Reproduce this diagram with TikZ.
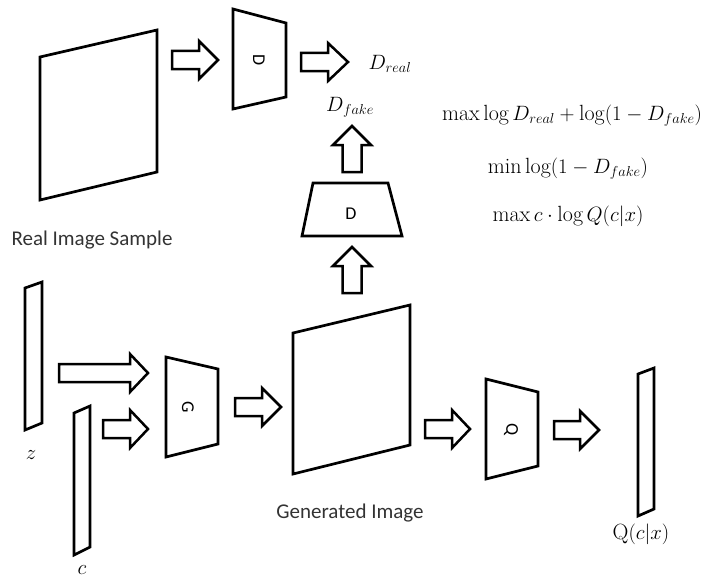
\documentclass[tikz,border=0pt]{standalone}
\usepackage{fontspec}
\setsansfont{Carlito}
\begin{document}
\begin{tikzpicture}[x=1pt,y=-1pt,
  outline/.style={draw=black,line width=2.7pt,line join=miter},
  blk/.style={draw=black,line width=2.5pt,line join=miter,fill=white},
  lbl/.style={font=\sffamily\fontsize{21}{24}\selectfont,text=black!80,inner sep=0pt},
  netlbl/.style={font=\sffamily\fontsize{18}{21}\selectfont,inner sep=0pt},
  eq/.style={font=\fontsize{22}{26}\selectfont,inner sep=0pt}]
\useasboundingbox (0,0) rectangle (711,578);

% block arrows: right-pointing (x1,x2,y,head start) and up-pointing (x,y1,y2,head start)
\newcommand\rblock[4]{\draw[blk] (#1,#3-9) -- (#4,#3-9) -- (#4,#3-19) -- (#2,#3)
  -- (#4,#3+19) -- (#4,#3+9) -- (#1,#3+9) -- cycle;}
\newcommand\ublock[4]{\draw[blk] (#1-9.5,#2) -- (#1-9.5,#4) -- (#1-19,#4) -- (#1,#3)
  -- (#1+19,#4) -- (#1+9.5,#4) -- (#1+9.5,#2) -- cycle;}

% real image sample
\draw[outline] (40,57) -- (157,30) -- (157,172) -- (40,200) -- cycle;
\node[lbl] (realtxt) at (92,240) {Real Image Sample};

% discriminator on real data
\rblock{172}{218}{60}{199}
\draw[outline] (233,9) -- (286,23) -- (286,97) -- (233,109) -- cycle;
\node[netlbl,rotate=-90] (dtop) at (259,60) {D};
\rblock{301}{348}{62}{328}
\node[eq] (dreal) at (390,64) {$D_{real}$};

% discriminator on generated data
\node[eq] (dfake) at (350,107) {$D_{fake}$};
\ublock{352}{172}{126}{145}
\draw[outline] (313,183) -- (388,183) -- (402,236) -- (302,236) -- cycle;
\node[netlbl] (dmid) at (351,214) {D};
\ublock{352}{293}{247}{266}

% objectives
\node[eq] (obj1) at (572,116) {$\max\log D_{real}+\log(1-D_{fake})$};
\node[eq] (obj2) at (568,169) {$\min\log(1-D_{fake})$};
\node[eq] (obj3) at (568,216) {$\max c\cdot\log Q(c|x)$};

% latent inputs
\draw[outline] (25,288) -- (42,282) -- (42,423) -- (25,430) -- cycle;
\node[eq] (zlbl) at (31,455) {$z$};
\draw[outline] (74,413) -- (90,406) -- (90,547) -- (74,555) -- cycle;
\node[eq] (clbl) at (82,570) {$c$};
\rblock{59}{148}{373}{130}
\rblock{103}{148}{429}{130}

% generator
\draw[outline] (166,357) -- (218,369) -- (218,444) -- (166,457) -- cycle;
\node[netlbl,rotate=-90] (glbl) at (188,407) {G};
\rblock{235}{281}{407}{262}

% generated image
\draw[outline] (293,333) -- (410,305) -- (410,445) -- (293,474) -- cycle;
\node[lbl] (gentxt) at (350,513) {Generated Image};
\rblock{425}{470}{429}{452}

% auxiliary network Q
\draw[outline] (486,379) -- (538,392) -- (538,466) -- (486,479) -- cycle;
\node[netlbl,rotate=-90] (qlbl) at (511,430) {Q};
\rblock{554}{599}{430}{580}

% latent code estimate
\draw[outline] (638,374) -- (654,368) -- (654,509) -- (638,516) -- cycle;
\node[eq] (qout) at (641,534) {$\mathrm{Q}(c|x)$};
\end{tikzpicture}
\end{document}
